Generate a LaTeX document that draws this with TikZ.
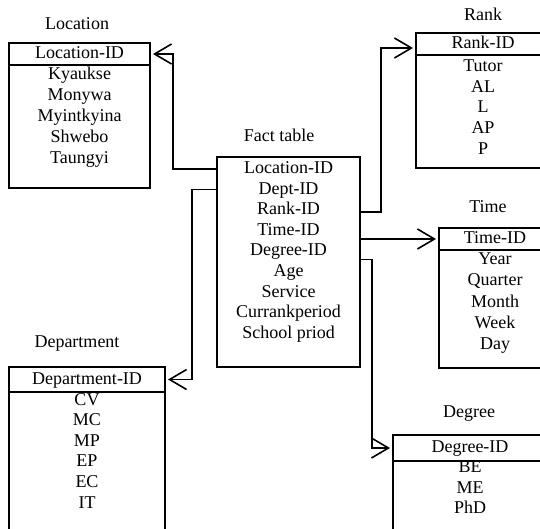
\documentclass[tikz,border=0pt]{standalone}
\usepackage{fontspec}
\setmainfont{Liberation Serif}
\usetikzlibrary{positioning,calc,arrows.meta}

\begin{document}
\begin{tikzpicture}[x=1pt, y=-1pt,
		frame/.style={draw, line width=1.6pt, inner sep=0pt, outer sep=0pt},
		key/.style={frame, anchor=north west, text height=12pt, text depth=3pt, font=\fontsize{18}{20}\selectfont},
		item/.style={inner sep=0pt, text height=12pt, text depth=3pt, font=\fontsize{18}{20}\selectfont},
		ttl/.style={inner sep=0pt, text height=12pt, text depth=3pt, font=\fontsize{18}{20}\selectfont},
		link/.style={line width=1.6pt, shorten >=3pt,
			-{Straight Barb[length=17pt, width=20pt, line width=1.6pt]}}
		]
		\clip (0,0) rectangle (540,528);
		
		% ===== Location =====
		\node[ttl] (locttl) at (77,25) {Location};
		\node[key, minimum width=141pt, minimum height=22pt] (locid) at (9,43) {Location-ID};
		\node[frame, below=0pt of locid, minimum width=141pt, minimum height=123pt] (locbox) {};
		\foreach \t [count=\i] in {Kyaukse,Monywa,Myintkyina,Shwebo,Taungyi}{
			\node[item] (loc\i) at (79.5,{54+21*\i}) {\t};
		}
		
		% ===== Department =====
		\node[ttl] (depttl) at (77,343) {Department};
		\node[key, minimum width=156pt, minimum height=25pt] (depid) at (9,367) {Department-ID};
		\node[frame, below=0pt of depid, minimum width=156pt, minimum height=160pt] (depbox) {};
		\foreach \t [count=\i] in {CV,MC,MP,EP,EC,IT}{
			\node[item] (dep\i) at (87,{380+20.6*\i}) {\t};
		}
		
		% ===== Fact table =====
		\node[ttl] (factttl) at (279,137) {Fact table};
		\node[frame, anchor=north west, minimum width=143pt, minimum height=210pt] (fact) at (217,157) {};
		\foreach \t [count=\i] in {Location-ID,Dept-ID,Rank-ID,Time-ID,Degree-ID,Age,Service,Currankperiod,School priod}{
			\node[item] (f\i) at (288.5,{169+20.6*(\i-1)}) {\t};
		}
		
		% ===== Rank =====
		\node[ttl] (rankttl) at (483,16) {Rank};
		\node[key, minimum width=134pt, minimum height=22pt] (rankid) at (416,33) {Rank-ID};
		\node[frame, below=0pt of rankid, minimum width=134pt, minimum height=113pt] (rankbox) {};
		\foreach \t [count=\i] in {Tutor,AL,L,AP,P}{
			\node[item] (rank\i) at (483,{46+20.8*\i}) {\t};
		}
		
		% ===== Time =====
		\node[ttl] (timettl) at (488,208) {Time};
		\node[key, minimum width=112pt, minimum height=22pt] (timeid) at (439,228) {Time-ID};
		\node[frame, below=0pt of timeid, minimum width=112pt, minimum height=118pt] (timebox) {};
		\foreach \t [count=\i] in {Year,Quarter,Month,Week,Day}{
			\node[item] (time\i) at (495,{239+21.2*\i}) {\t};
		}
		
		% ===== Degree =====
		\node[ttl] (degttl) at (469,413) {Degree};
		\node[key, minimum width=154pt, minimum height=26pt] (degid) at (393,435) {Degree-ID};
		\node[frame, below=0pt of degid, minimum width=154pt, minimum height=90pt] (degbox) {};
		\foreach \t [count=\i] in {BE,ME,PhD}{
			\node[item] (deg\i) at (470,{448+20.3*\i}) {\t};
		}
		
		% ===== links =====
		\draw[link] (fact.west |- f1) -- ++(-44,0) |- (locid.east);
		\draw[link] (fact.west |- f2) -- ++(-25,0) |- (depid.east);
		\draw[link] ($(fact.east |- f3)+(0,2)$) -- ++(21,0) |- ([yshift=-4pt]rankid.west);
		\draw[link] (fact.east |- timeid.west) -- (timeid.west);
		\draw[link] ($(fact.east |- f5)+(0,8)$) -- ++(12,0) |- (degid.west);
		
	\end{tikzpicture}
\end{document}
